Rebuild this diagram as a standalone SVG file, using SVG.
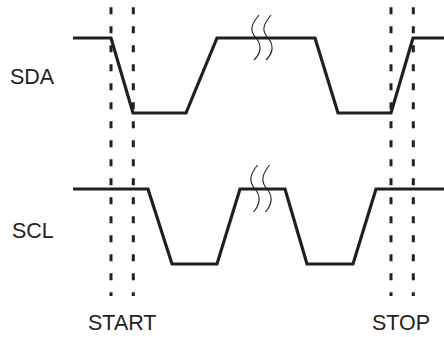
<svg xmlns="http://www.w3.org/2000/svg" width="444" height="337" viewBox="0 0 444 337">
<style>
.wave{fill:none;stroke:#231f20;stroke-width:3.2;stroke-linejoin:miter;stroke-linecap:butt}
.mark{fill:none;stroke:#231f20;stroke-width:3;stroke-dasharray:7 12}
.brk{fill:none;stroke:#231f20;stroke-width:1.1}
.lbl{font-family:"Liberation Sans",Arial,sans-serif;font-size:21.5px;fill:#231f20}
</style>
<rect width="444" height="337" fill="#ffffff"/>
<g id="labels">
<text class="lbl" x="10" y="84">SDA</text>
<text class="lbl" x="12" y="238">SCL</text>
<text class="lbl" x="88" y="330">START</text>
<text class="lbl" x="372" y="330">STOP</text>
</g>
<g id="SDA">
<path class="wave" d="M73,38 H111 L133,113 H186 L217,38 H315 L338,113 H391 L413,38 H444"/>
<path class="brk" d="M259,15 C249,27 251,32 256,38 C261,44 263,51 254,60"/>
<path class="brk" d="M271,15 C261,27 263,32 268,38 C273,44 275,51 266,60"/>
</g>
<g id="SCL">
<path class="wave" d="M73,189 H148 L172,264 H217 L240,189 H285 L307,264 H353 L376,189 H444"/>
<path class="brk" d="M257.5,165 C248,177 250,183 255,189 C260,195 262,202 253.5,212"/>
<path class="brk" d="M269.5,165 C260,177 262,183 267,189 C272,195 274,202 265.5,212"/>
</g>
<g id="markers">
<line class="mark" x1="111" y1="7.3" x2="111" y2="296"/>
<line class="mark" x1="133.3" y1="7.3" x2="133.3" y2="296"/>
<line class="mark" x1="391" y1="7.3" x2="391" y2="296"/>
<line class="mark" x1="413.3" y1="7.3" x2="413.3" y2="296"/>
</g>
</svg>
